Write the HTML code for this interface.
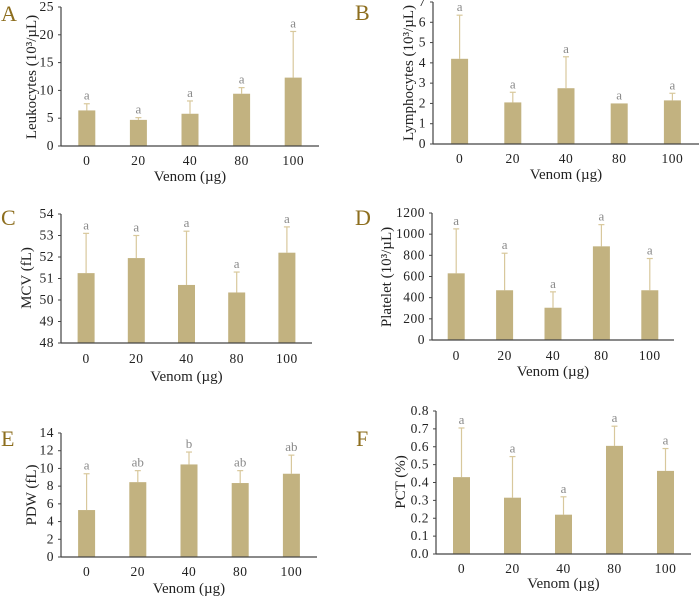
<!DOCTYPE html>
<html><head><meta charset="utf-8"><style>
body{margin:0;background:#fff;}
svg{display:block;font-family:"Liberation Serif",serif;}
</style></head><body>
<svg id="fig" width="699" height="596" viewBox="0 0 699 596"></svg>
<script>
const categories = ["0","20","40","80","100"];
const aMeans = [6.4, 4.7, 5.8, 9.4, 12.3];
const aErr = [7.6, 5.1, 8.1, 10.5, 20.6];
const aSig = ["a","a","a","a","a"];
const aTicks = [0,5,10,15,20,25];
const bMeans = [4.2, 2.05, 2.75, 2.0, 2.15];
const bErr = [6.35, 2.55, 4.3, null, 2.5];
const bSig = ["a","a","a","a","a"];
const bTicks = [0,1,2,3,4,5,6,7];
const cMeans = [51.25, 51.95, 50.7, 50.35, 52.2];
const cErr = [53.1, 53.0, 53.2, 51.3, 53.4];
const cSig = ["a","a","a","a","a"];
const cTicks = [48,49,50,51,52,53,54];
const dMeans = [630, 470, 305, 885, 470];
const dErr = [1050, 820, 455, 1090, 770];
const dSig = ["a","a","a","a","a"];
const dTicks = [0,200,400,600,800,1000,1200];
const eMeans = [5.3, 8.45, 10.45, 8.35, 9.4];
const eErr = [9.4, 9.75, 11.85, 9.75, 11.5];
const eSig = ["a","ab","b","ab","ab"];
const eTicks = [0,2,4,6,8,10,12,14];
const fMeans = [0.43, 0.315, 0.22, 0.605, 0.465];
const fErr = [0.705, 0.545, 0.32, 0.715, 0.59];
const fSig = ["a","a","a","a","a"];
const fTicks = ["0.0","0.1","0.2","0.3","0.4","0.5","0.6","0.7","0.8"];

const NS="http://www.w3.org/2000/svg";
const svg=document.getElementById('fig');
function mk(tag,attrs,parent,text){const e=document.createElementNS(NS,tag);for(const k in attrs)e.setAttribute(k,attrs[k]);if(text!==undefined)e.textContent=text;(parent||svg).appendChild(e);return e;}

function panel(p){
  const g=mk('g',{});
  
  
  const ticks=p.ticks.map(Number);
  const tmin=ticks[0],tmax=ticks[ticks.length-1];
  const y=v=>p.y0+(v-tmin)/(tmax-tmin)*(p.yTop-p.y0);
  const x=i=>p.x0+(i+0.5)*(p.x1-p.x0)/categories.length;
  const L=mk('text',{x:p.lx,y:p.ly,'font-size':22,fill:'#8d6e1e'},g,p.id);
  
  
  p.means.forEach((m,i)=>{
    const cx=x(i);
    if(p.err[i]!=null){
      const ln=mk('line',{x1:cx,x2:cx,y1:y(m),y2:y(p.err[i]),stroke:'#d8c89c','stroke-width':1.2},g);
      
      
      mk('line',{x1:cx-3,x2:cx+3,y1:y(p.err[i]),y2:y(p.err[i]),stroke:'#d8c89c','stroke-width':1.2},g);
    }
    const r=mk('rect',{x:cx-8.5,y:y(m),width:17,height:p.y0-y(m),fill:'#c2b280'},g);
    
    
    const top=p.err[i]!=null?y(p.err[i]):y(m);
    const s=mk('text',{x:cx,y:top-4,'font-size':13,fill:'#8a8a8a','text-anchor':'middle'},g,p.sig[i]);
    
    
    const t=mk('text',{x:cx,y:p.tickY,'font-size':13.5,fill:'#222','text-anchor':'middle','letter-spacing':'0.5'},g,categories[i]);
    
    
  });
  const ya=mk('line',{x1:p.x0,x2:p.x0,y1:p.y0,y2:p.yTop,stroke:'#444','stroke-width':1.2},g);
  
  
  const xa=mk('line',{x1:p.x0,x2:p.x1,y1:p.y0,y2:p.y0,stroke:'#444','stroke-width':1.2},g);
  
  
  p.ticks.forEach(tv=>{
    const yy=y(Number(tv));
    mk('line',{x1:p.x0-3,x2:p.x0,y1:yy,y2:yy,stroke:'#444','stroke-width':1},g);
    const t=mk('text',{x:p.x0-7,y:yy+4,'font-size':13.5,fill:'#222','text-anchor':'end','letter-spacing':'0.5'},g,String(tv));
    
    
  });
  const xl=mk('text',{x:(p.x0+p.x1)/2,y:p.xlY,'font-size':15,fill:'#222','text-anchor':'middle'},g,'Venom (µg)');
  
  
  const yl=mk('text',{x:0,y:0,'font-size':15,fill:'#222','text-anchor':'middle',transform:`translate(${p.ylx},${p.yly}) rotate(-90)`},g,p.ylabel);
  
  
}

panel({id:'A',means:aMeans,err:aErr,sig:aSig,ticks:aTicks,x0:61,x1:319,y0:146,yTop:7,tickY:165,xlY:181,ylx:36,yly:77,lx:1,ly:21,ylabel:'Leukocytes (10³/µL)'});
panel({id:'B',means:bMeans,err:bErr,sig:bSig,ticks:bTicks,x0:433,x1:699,y0:144,yTop:2,tickY:163,xlY:179,ylx:413,yly:73,lx:355,ly:20,ylabel:'Lymphocytes (10³/µL)'});
panel({id:'C',means:cMeans,err:cErr,sig:cSig,ticks:cTicks,x0:61,x1:312,y0:343,yTop:214,tickY:363,xlY:381,ylx:31,yly:278,lx:1,ly:225,ylabel:'MCV (fL)'});
panel({id:'D',means:dMeans,err:dErr,sig:dSig,ticks:dTicks,x0:432,x1:674,y0:340,yTop:213,tickY:360,xlY:376,ylx:391,yly:277,lx:355,ly:225,ylabel:'Platelet (10³/µL)'});
panel({id:'E',means:eMeans,err:eErr,sig:eSig,ticks:eTicks,x0:61,x1:317,y0:557,yTop:433,tickY:576,xlY:593,ylx:36,yly:495,lx:1,ly:446,ylabel:'PDW (fL)'});
panel({id:'F',means:fMeans,err:fErr,sig:fSig,ticks:fTicks,x0:436,x1:691,y0:554,yTop:411,tickY:573,xlY:588,ylx:405,yly:482,lx:356,ly:446,ylabel:'PCT (%)'});
</script>
</body></html>
